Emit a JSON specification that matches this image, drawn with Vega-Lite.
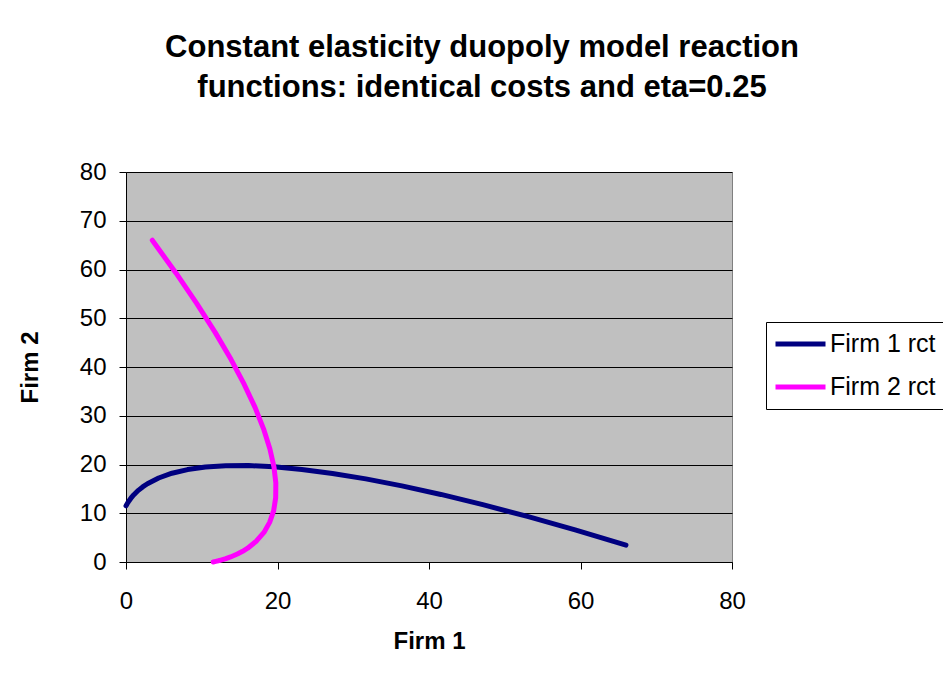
{
  "$schema": "https://vega.github.io/schema/vega-lite/v6.json",
  "width": 606,
  "height": 390,
  "autosize": {"type": "none"},
  "padding": {"left": 126, "top": 172, "right": 211, "bottom": 126},
  "background": "white",
  "title": {
    "text": ["Constant elasticity duopoly model reaction", "functions: identical costs and eta=0.25"],
    "fontSize": 31,
    "fontWeight": "bold",
    "font": "Liberation Sans",
    "color": "black",
    "anchor": "middle",
    "dx": 53,
    "lineHeight": 40,
    "offset": 56
  },
  "config": {
    "font": "Liberation Sans",
    "view": {"fill": "#C0C0C0", "stroke": "#808080", "strokeWidth": 1},
    "axis": {
      "domainColor": "black",
      "tickColor": "black",
      "tickSize": 7,
      "labelFontSize": 24,
      "labelColor": "black",
      "labelFlush": false,
      "titleFontSize": 24,
      "titleFontWeight": "bold",
      "titleColor": "black",
      "labelFont": "Liberation Sans",
      "titleFont": "Liberation Sans"
    }
  },
  "data": {
    "values": [
      {"series": "Firm 1 rct", "i": 0, "x": 0.0, "y": 11.51},
      {"series": "Firm 1 rct", "i": 1, "x": 0.12, "y": 11.85},
      {"series": "Firm 1 rct", "i": 2, "x": 0.25, "y": 12.19},
      {"series": "Firm 1 rct", "i": 3, "x": 0.39, "y": 12.52},
      {"series": "Firm 1 rct", "i": 4, "x": 0.69, "y": 13.18},
      {"series": "Firm 1 rct", "i": 5, "x": 1.04, "y": 13.8},
      {"series": "Firm 1 rct", "i": 6, "x": 1.63, "y": 14.7},
      {"series": "Firm 1 rct", "i": 7, "x": 2.2, "y": 15.4},
      {"series": "Firm 1 rct", "i": 8, "x": 2.83, "y": 16.06},
      {"series": "Firm 1 rct", "i": 9, "x": 4.31, "y": 17.23},
      {"series": "Firm 1 rct", "i": 10, "x": 6.07, "y": 18.21},
      {"series": "Firm 1 rct", "i": 11, "x": 8.13, "y": 18.96},
      {"series": "Firm 1 rct", "i": 12, "x": 10.49, "y": 19.49},
      {"series": "Firm 1 rct", "i": 13, "x": 13.18, "y": 19.76},
      {"series": "Firm 1 rct", "i": 14, "x": 16.19, "y": 19.78},
      {"series": "Firm 1 rct", "i": 15, "x": 19.53, "y": 19.53},
      {"series": "Firm 1 rct", "i": 16, "x": 23.22, "y": 18.99},
      {"series": "Firm 1 rct", "i": 17, "x": 27.26, "y": 18.17},
      {"series": "Firm 1 rct", "i": 18, "x": 31.66, "y": 17.05},
      {"series": "Firm 1 rct", "i": 19, "x": 36.42, "y": 15.61},
      {"series": "Firm 1 rct", "i": 20, "x": 41.57, "y": 13.86},
      {"series": "Firm 1 rct", "i": 21, "x": 47.1, "y": 11.77},
      {"series": "Firm 1 rct", "i": 22, "x": 52.99, "y": 9.35},
      {"series": "Firm 1 rct", "i": 23, "x": 59.29, "y": 6.59},
      {"series": "Firm 1 rct", "i": 24, "x": 66.0, "y": 3.47},
      {"series": "Firm 2 rct", "i": 0, "x": 11.51, "y": 0.0},
      {"series": "Firm 2 rct", "i": 1, "x": 11.85, "y": 0.12},
      {"series": "Firm 2 rct", "i": 2, "x": 12.19, "y": 0.25},
      {"series": "Firm 2 rct", "i": 3, "x": 12.52, "y": 0.39},
      {"series": "Firm 2 rct", "i": 4, "x": 13.18, "y": 0.69},
      {"series": "Firm 2 rct", "i": 5, "x": 13.8, "y": 1.04},
      {"series": "Firm 2 rct", "i": 6, "x": 14.7, "y": 1.63},
      {"series": "Firm 2 rct", "i": 7, "x": 15.4, "y": 2.2},
      {"series": "Firm 2 rct", "i": 8, "x": 16.06, "y": 2.83},
      {"series": "Firm 2 rct", "i": 9, "x": 17.23, "y": 4.31},
      {"series": "Firm 2 rct", "i": 10, "x": 18.21, "y": 6.07},
      {"series": "Firm 2 rct", "i": 11, "x": 18.96, "y": 8.13},
      {"series": "Firm 2 rct", "i": 12, "x": 19.49, "y": 10.49},
      {"series": "Firm 2 rct", "i": 13, "x": 19.76, "y": 13.18},
      {"series": "Firm 2 rct", "i": 14, "x": 19.78, "y": 16.19},
      {"series": "Firm 2 rct", "i": 15, "x": 19.53, "y": 19.53},
      {"series": "Firm 2 rct", "i": 16, "x": 18.99, "y": 23.22},
      {"series": "Firm 2 rct", "i": 17, "x": 18.17, "y": 27.26},
      {"series": "Firm 2 rct", "i": 18, "x": 17.05, "y": 31.66},
      {"series": "Firm 2 rct", "i": 19, "x": 15.61, "y": 36.42},
      {"series": "Firm 2 rct", "i": 20, "x": 13.86, "y": 41.57},
      {"series": "Firm 2 rct", "i": 21, "x": 11.77, "y": 47.1},
      {"series": "Firm 2 rct", "i": 22, "x": 9.35, "y": 52.99},
      {"series": "Firm 2 rct", "i": 23, "x": 6.59, "y": 59.29},
      {"series": "Firm 2 rct", "i": 24, "x": 3.47, "y": 66.0}
    ]
  },
  "mark": {"type": "line", "strokeWidth": 5, "strokeCap": "round", "strokeJoin": "round"},
  "encoding": {
    "x": {
      "field": "x", "type": "quantitative", "title": "Firm 1",
      "scale": {"domain": [0, 80], "nice": false},
      "axis": {"values": [0, 20, 40, 60, 80], "grid": false, "labelPadding": 20, "titlePadding": 16}
    },
    "y": {
      "field": "y", "type": "quantitative", "title": "Firm 2",
      "scale": {"domain": [0, 80], "nice": false},
      "axis": {"values": [0, 10, 20, 30, 40, 50, 60, 70, 80], "grid": true, "gridColor": "black", "gridOpacity": 1, "gridWidth": 1, "labelPadding": 13, "titlePadding": 37}
    },
    "color": {
      "field": "series", "type": "nominal",
      "scale": {"domain": ["Firm 1 rct", "Firm 2 rct"], "range": ["#000080", "#FF00FF"]},
      "legend": {
        "title": null,
        "orient": "none",
        "legendX": 640,
        "legendY": 150,
        "strokeColor": "black",
        "fillColor": "white",
        "padding": 7,
        "symbolType": "stroke",
        "symbolSize": 2500,
        "symbolStrokeWidth": 5,
        "clipHeight": 30,
        "labelFontSize": 25,
        "labelColor": "black",
        "labelOffset": 2,
        "rowPadding": 13
      }
    },
    "order": {"field": "i", "type": "quantitative"}
  }
}
